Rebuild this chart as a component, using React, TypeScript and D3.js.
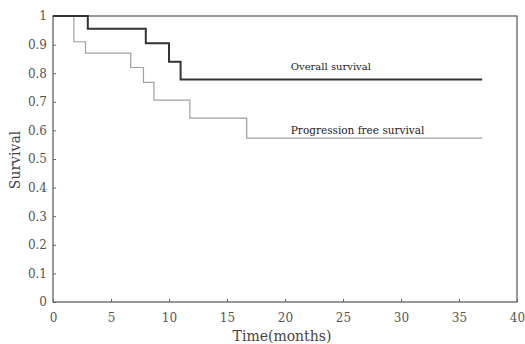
import { useEffect, useRef } from "react";
import * as d3 from "d3";

// Kaplan-Meier steps (time in months, survival)
const osTimes = [0, 3, 8, 10, 11, 37];
const osValues = [1, 0.955, 0.905, 0.84, 0.778, 0.778];

const pfsTimes = [0, 1.8, 2.8, 6.7, 7.8, 8.7, 11.8, 16.7, 37];
const pfsValues = [1, 0.91, 0.87, 0.82, 0.768, 0.706, 0.643, 0.573, 0.573];

const xTicks = [0, 5, 10, 15, 20, 25, 30, 35, 40];
const yTicks = [0, 0.1, 0.2, 0.3, 0.4, 0.5, 0.6, 0.7, 0.8, 0.9, 1];

const App = () => {
  const svgRef = useRef<SVGSVGElement | null>(null);

  useEffect(() => {
    const width = 525;
    const height = 344;
    const margin = { top: 16, right: 8, bottom: 42, left: 53 };
    const innerWidth = width - margin.left - margin.right;
    const innerHeight = height - margin.top - margin.bottom;
    const font = "'DejaVu Serif', 'Liberation Serif', serif";

    d3.select(svgRef.current).selectAll("*").remove();

    const svg = d3
      .select(svgRef.current)
      .attr("width", width)
      .attr("height", height)
      .style("display", "block")
      .style("background", "#fff");

    const g = svg
      .append("g")
      .attr("transform", `translate(${margin.left},${margin.top})`);

    const x = d3.scaleLinear().domain([0, 40]).range([0, innerWidth]);
    const y = d3.scaleLinear().domain([0, 1]).range([innerHeight, 0]);

    // frame
    g.append("rect")
      .attr("x", 0)
      .attr("y", 0)
      .attr("width", innerWidth)
      .attr("height", innerHeight)
      .attr("fill", "none")
      .attr("stroke", "#555")
      .attr("stroke-width", 1.2);

    // x axis, ticks inward
    const xAxis = g
      .append("g")
      .attr("transform", `translate(0,${innerHeight})`)
      .call(d3.axisBottom(x).tickValues(xTicks).tickSizeInner(-3).tickSizeOuter(0).tickFormat(d3.format("d")));
    xAxis.select(".domain").remove();
    xAxis.selectAll("line").attr("stroke", "#666");
    xAxis
      .selectAll("text")
      .attr("y", 11)
      .style("font-family", font)
      .style("font-size", "12px")
      .style("fill", "#555");

    // y axis, ticks inward
    const yAxis = g
      .append("g")
      .call(d3.axisLeft(y).tickValues(yTicks).tickSizeInner(-3).tickSizeOuter(0).tickFormat((d) => String(+d)));
    yAxis.select(".domain").remove();
    yAxis.selectAll("line").attr("stroke", "#666");
    yAxis
      .selectAll("text")
      .attr("x", -6)
      .style("font-family", font)
      .style("font-size", "12px")
      .style("fill", "#555");

    const stepLine = d3
      .line<[number, number]>()
      .x((d) => x(d[0]))
      .y((d) => y(d[1]))
      .curve(d3.curveStepAfter);

    g.append("path")
      .datum(pfsTimes.map((t, i) => [t, pfsValues[i]] as [number, number]))
      .attr("fill", "none")
      .attr("stroke", "#a0a0a0")
      .attr("stroke-width", 1.2)
      .attr("d", stepLine);

    g.append("path")
      .datum(osTimes.map((t, i) => [t, osValues[i]] as [number, number]))
      .attr("fill", "none")
      .attr("stroke", "#333")
      .attr("stroke-width", 2)
      .attr("d", stepLine);

    // curve labels
    g.append("text")
      .attr("x", x(20.5))
      .attr("y", y(0.778) - 9)
      .style("font-family", font)
      .style("font-size", "10px")
      .style("fill", "#222")
      .text("Overall survival");

    g.append("text")
      .attr("x", x(20.5))
      .attr("y", y(0.573) - 4)
      .style("font-family", font)
      .style("font-size", "10.5px")
      .style("fill", "#222")
      .text("Progression free survival");

    // axis titles
    svg
      .append("text")
      .attr("x", 282)
      .attr("y", height - 3)
      .attr("text-anchor", "middle")
      .style("font-family", font)
      .style("font-size", "14px")
      .style("fill", "#444")
      .text("Time(months)");

    svg
      .append("text")
      .attr("transform", "rotate(-90)")
      .attr("x", -160)
      .attr("y", 20)
      .attr("text-anchor", "middle")
      .style("font-family", font)
      .style("font-size", "14px")
      .style("fill", "#444")
      .text("Survival");
  }, []);

  return <svg ref={svgRef} style={{ position: "absolute", left: 0, top: 0 }}></svg>;
};

export default App;
